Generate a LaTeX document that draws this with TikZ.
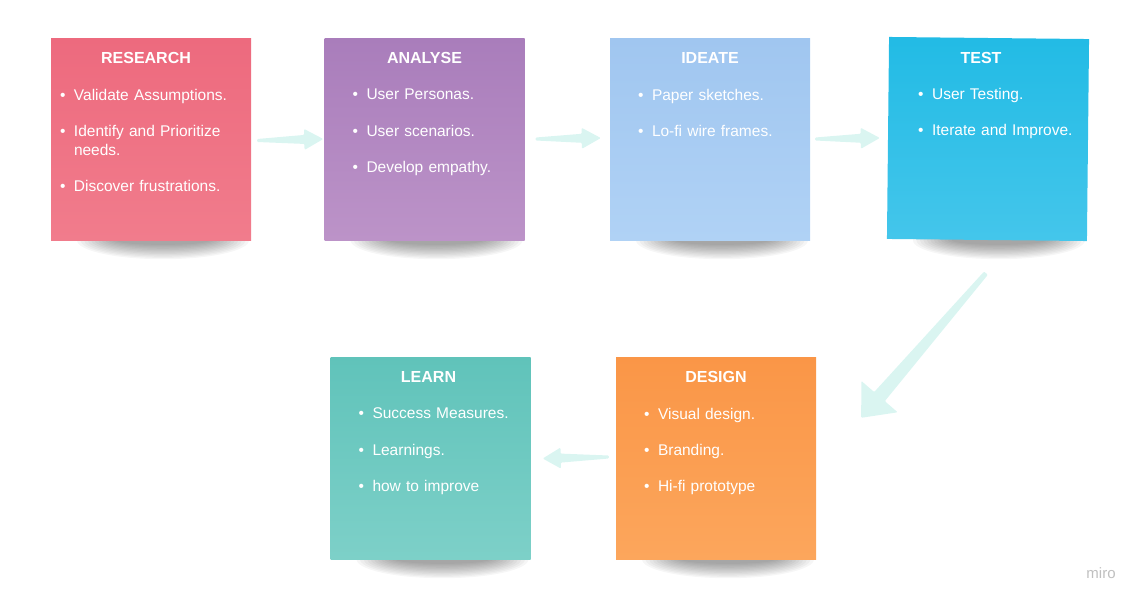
\documentclass[tikz,border=0pt]{standalone}
\usepackage{fontspec}
\setmainfont{Liberation Sans}
\usetikzlibrary{calc,backgrounds,positioning}
\definecolor{restop}{RGB}{237,106,126}
\definecolor{resbot}{RGB}{241,124,140}
\definecolor{anatop}{RGB}{169,125,187}
\definecolor{anabot}{RGB}{188,147,200}
\definecolor{ideatop}{RGB}{160,198,240}
\definecolor{ideabot}{RGB}{176,210,245}
\definecolor{testtop}{RGB}{34,187,229}
\definecolor{testbot}{RGB}{68,198,235}
\definecolor{learntop}{RGB}{96,195,186}
\definecolor{learnbot}{RGB}{125,208,200}
\definecolor{destop}{RGB}{250,150,71}
\definecolor{desbot}{RGB}{252,166,92}
\definecolor{flowmint}{RGB}{218,245,241}

% tail, tip, head length, tail half width, shaft half width, head half width
\newcommand\fatarrow[6]{%
  \coordinate (fa-h) at ($(#2)!#3!(#1)$);
  \fill[flow] ($(#1)!#4!90:(#2)$) -- ($(fa-h)!#5!90:(#2)$) -- ($(fa-h)!#6!90:(#2)$) -- (#2)
    -- ($(fa-h)!#6!-90:(#2)$) -- ($(fa-h)!#5!-90:(#2)$) -- ($(#1)!#4!-90:(#2)$) -- cycle;}
\newcommand\bul[1]{\makebox[14pt][l]{\textbullet}\parbox[t]{162pt}{\raggedright #1}}

\begin{document}
\begin{tikzpicture}[x=1pt,y=-1pt,font=\fontsize{15.5}{19}\selectfont,
    note/.style={minimum width=200pt,minimum height=202pt,inner sep=0pt},
    notetitle/.style={anchor=base,text=white,font=\fontsize{16}{19}\selectfont\bfseries},
    noteitem/.style={anchor=north west,inner sep=0pt,text=white,text width=176pt,align=left},
    flow/.style={fill=flowmint,rounded corners=1pt}]
  \useasboundingbox (0,0) rectangle (1146,605);

  % sticky notes
  \node[note,top color=restop,bottom color=resbot] (research) at (151,139) {};
  \node[note,top color=anatop,bottom color=anabot] (analyse) at (424.5,139) {};
  \node[note,top color=ideatop,bottom color=ideabot] (ideate) at (710,139) {};
  \node[note,top color=testtop,bottom color=testbot,rotate=-0.6] (test) at (988,139) {};
  \node[note,top color=learntop,bottom color=learnbot] (learn) at (430.5,458) {};
  \node[note,top color=destop,bottom color=desbot] (design) at (716,458) {};

  \begin{scope}[on background layer]
    \foreach \n in {research,analyse,ideate,test,learn,design}
      \foreach \k in {0,...,11}
        \fill[black,opacity=.035] ($(\n.south)+(12,0)$) ellipse ({86-3.5*\k} and {19-1.3*\k});
  \end{scope}

  % titles
  \node[notetitle] (research-t) at ([xshift=-5pt,yshift=-25.5pt]research.north) {RESEARCH};
  \node[notetitle] (analyse-t) at ([yshift=-25.5pt]analyse.north) {ANALYSE};
  \node[notetitle] (ideate-t) at ([yshift=-25.5pt]ideate.north) {IDEATE};
  \node[notetitle] (test-t) at ([xshift=-8pt,yshift=-25.5pt]test.north) {TEST};
  \node[notetitle] (learn-t) at ([xshift=-2pt,yshift=-25.5pt]learn.north) {LEARN};
  \node[notetitle] (design-t) at ([yshift=-25.5pt]design.north) {DESIGN};

  % bullet lists
  \foreach \dy/\txt [count=\i] in {51/Validate Assumptions.,87/Identify and Prioritize needs.,142/Discover frustrations.}
    \node[noteitem] (research-\i) at ($(research.north west)+(9,\dy)$) {\bul{\txt}};
  \foreach \dy/\txt [count=\i] in {51/User Personas.,87/User scenarios.,123/Develop empathy.}
    \node[noteitem] (analyse-\i) at ($(analyse.north west)+(28,\dy)$) {\bul{\txt}};
  \foreach \dy/\txt [count=\i] in {51/Paper sketches.,87/Lo-fi wire frames.}
    \node[noteitem] (ideate-\i) at ($(ideate.north west)+(28,\dy)$) {\bul{\txt}};
  \foreach \dy/\txt [count=\i] in {51/User Testing.,87/Iterate and Improve.}
    \node[noteitem] (test-\i) at ($(test.north west)+(29,\dy)$) {\bul{\txt}};
  \foreach \dy/\txt [count=\i] in {51/Success Measures.,87/Learnings.,123/how to improve}
    \node[noteitem] (learn-\i) at ($(learn.north west)+(28,\dy)$) {\bul{\txt}};
  \foreach \dy/\txt [count=\i] in {51/Visual design.,87/Branding.,123/Hi-fi prototype}
    \node[noteitem] (design-\i) at ($(design.north west)+(28,\dy)$) {\bul{\txt}};

  % flow arrows
  \coordinate (a1s) at ($(research.east)+(6,1.5)$);
  \coordinate (a1e) at ($(analyse.west)+(-1,0)$);
  \fatarrow{a1s}{a1e}{19pt}{1.5pt}{4.5pt}{10.5pt}
  \coordinate (a2s) at ($(analyse.east)+(11,0)$);
  \coordinate (a2e) at ($(ideate.west)+(-9,-1)$);
  \fatarrow{a2s}{a2e}{19pt}{1.5pt}{4.5pt}{10.5pt}
  \coordinate (a3s) at ($(ideate.east)+(5,0)$);
  \coordinate (a3e) at ($(test.west)+(-8,0)$);
  \fatarrow{a3s}{a3e}{19pt}{1.5pt}{4.5pt}{10.5pt}
  \coordinate (a4s) at ($(test.south)+(-1,33)$);
  \coordinate (a4e) at ($(design.north east)+(45,61)$);
  \fatarrow{a4s}{a4e}{28pt}{2.5pt}{7pt}{24pt}
  \coordinate (a5s) at ($(design.west)+(-7,-1)$);
  \coordinate (a5e) at ($(learn.east)+(12,0.5)$);
  \fatarrow{a5s}{a5e}{18pt}{1.5pt}{4.5pt}{10.5pt}

  \node[text=black!25,font=\fontsize{15}{15}\selectfont] (miro) at (1101,573) {miro};
\end{tikzpicture}
\end{document}
